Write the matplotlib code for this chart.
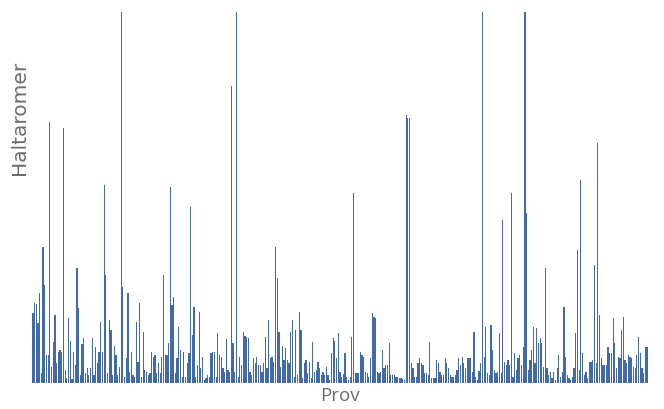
import matplotlib
matplotlib.use("Agg")
import matplotlib.pyplot as plt
import numpy as np

# Heights of each sample (arbitrary units; axis top = 371, taller bars are clipped)
seg1 = [70, 80, 79, 60, 90, 10, 136, 98, 28, 28, 261, 16, 41, 68, 20, 31, 33, 31, 255, 13,
        5, 65, 42, 4, 31, 18, 115, 75, 8, 39, 45, 10, 15, 8, 15, 45, 8, 36,
        20, 31, 61, 31, 198, 108]
seg2 = [10, 63, 53, 8, 37, 28, 8, 16, 420, 96, 6, 25, 90, 11, 31, 8, 6, 61, 21, 80,
        6, 51, 13, 11, 8, 10, 31, 26, 28, 10, 20, 10, 26, 108, 28, 28, 40, 196, 78,
        86, 10, 25, 56, 33, 6]
seg3 = [31, 6, 20, 30, 176, 48, 76, 6, 18, 71, 15, 26, 3, 5, 8, 6, 30, 31, 31,
        6, 50, 28, 26, 15, 11, 44, 13, 11, 297, 40, 11, 420, 6, 26, 18, 51, 47, 46, 45,
        11, 8, 25, 20, 26, 18, 18, 11, 20, 46, 15]
seg4 = [63, 25, 26, 21, 136, 105, 51, 16, 37, 23, 35, 23, 20, 51, 63, 6, 53, 8, 71, 53,
        5, 20, 23, 10, 21, 5, 41, 11, 13, 21, 15, 8, 11, 8, 16, 8, 3, 30, 45, 42,
        25, 50, 11, 6, 9, 30]
seg5 = [6, 3, 6, 46, 190, 10, 10, 10, 31, 28, 26, 11, 10, 6, 25, 70, 66, 65, 11, 10,
        11, 33, 15, 18, 18, 40, 8, 8, 8, 6, 6, 5, 5, 4, 3, 268, 265, 265, 20, 15, 6,
        6, 20, 25]
seg6 = [20, 18, 10, 10, 8, 41, 5, 5, 5, 23, 20, 11, 8, 8, 25, 20, 15, 8, 6, 6,
        8, 13, 25, 18, 26, 20, 15, 25, 25, 25, 11, 51, 6, 3, 12, 20, 420, 26, 56, 10, 8,
        58, 33, 13, 10]
seg7 = [11, 50, 10, 163, 21, 18, 23, 18, 190, 6, 30, 13, 25, 28, 18, 36, 420, 170, 13, 23,
        33, 56, 20, 55, 40, 45, 40, 16, 115, 15, 8, 11, 5, 11, 3, 15, 28, 6, 11, 76,
        26, 8, 5, 3, 6, 15]
seg8 = [50, 133, 13, 203, 30, 8, 11, 5, 21, 21, 23, 118, 20, 240, 68, 25, 18, 18, 18, 36,
        30, 30, 65, 40, 15, 26, 25, 53, 66, 23, 20, 28, 26, 25, 16, 15, 28, 46, 30, 15,
        10, 36, 36]

values = seg1 + seg2 + seg3 + seg4 + seg5 + seg6 + seg7 + seg8
x_label = "Prov"
y_label = "Haltaromer"

fig = plt.figure(figsize=(6.64, 4.09), dpi=100)
ax = fig.add_axes([0.048, 0.0636, 0.928, 0.907])
idx = np.arange(len(values))
ax.bar(idx, values, width=0.72, color="#4269a8", linewidth=0)
ax.set_xlim(-0.6, len(values) - 0.4)
ax.set_ylim(0, 371)
for s in ax.spines.values():
    s.set_visible(False)
ax.set_xticks([])
ax.set_yticks([])
fig.text(0.512, 0.031, x_label, ha="center", va="center", fontsize=13.5,
         color="#6b6b6b", family="Open Sans")
fig.text(0.029, 0.712, y_label, ha="center", va="center", rotation=90,
         fontsize=14.5, color="#6b6b6b", family="DejaVu Sans")
fig.savefig("out.png", dpi=100, facecolor="white")
